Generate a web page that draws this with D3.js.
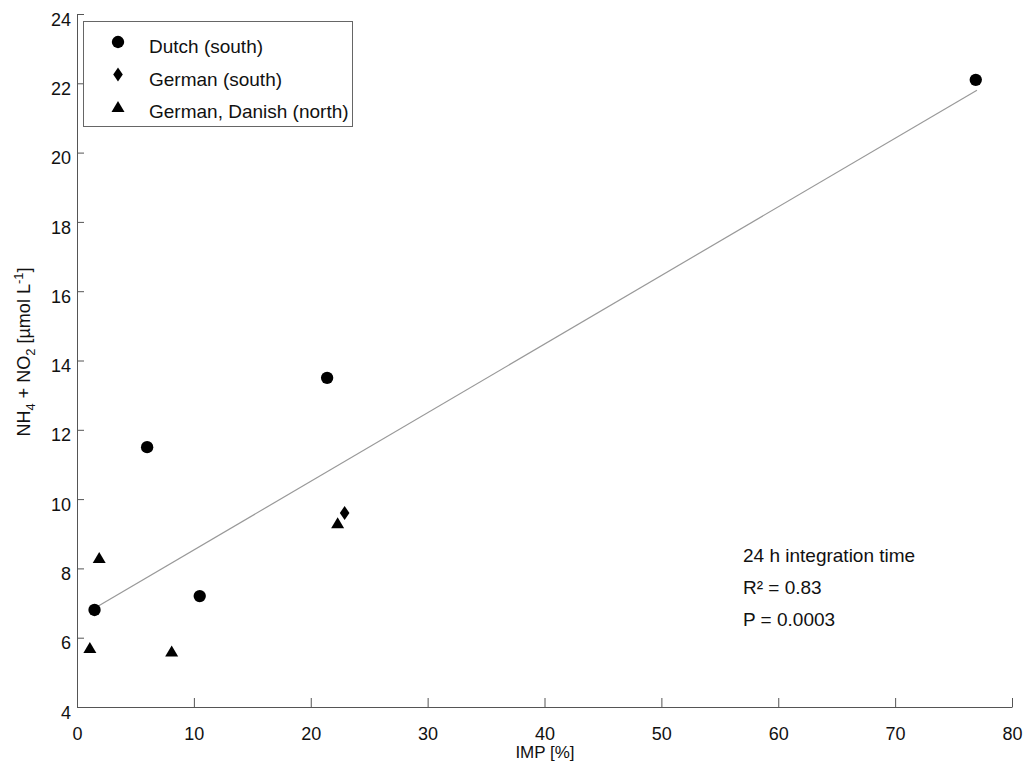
<!DOCTYPE html>
<html>
<head>
<meta charset="utf-8">
<script src="https://cdn.jsdelivr.net/npm/d3@7"></script>
<style>
  body { margin: 0; background: #fff; }
  text { font-family: Arial, "Liberation Sans", sans-serif; fill: #111; }
</style>
</head>
<body>
<div id="chart"></div>
<script>
// values
let dutchX = [1.5, 6.0, 10.5, 21.4, 76.9];
let dutchY = [6.8, 11.5, 7.2, 13.5, 22.1];
let germanSouthX = [22.9];
let germanSouthY = [9.6];
let northX = [1.1, 1.9, 8.1, 22.3];
let northY = [5.7, 8.3, 5.6, 9.3];
let trendX = [1.5, 77];
let trendY = [6.85, 21.8];
let xTicks = [0, 10, 20, 30, 40, 50, 60, 70, 80];
let yTicks = [4, 6, 8, 10, 12, 14, 16, 18, 20, 22, 24];
let legendLabels = ['Dutch (south)', 'German (south)', 'German, Danish (north)'];
let notes = ['24 h integration time', 'R\u00b2 = 0.83', 'P = 0.0003'];

let margin = {top: 14, right: 15, bottom: 69, left: 77};
let width = 1028 - margin.left - margin.right,
    height = 776 - margin.top - margin.bottom;

let svg = d3.select('#chart').append('svg')
    .attr('width', 1028).attr('height', 776);
let g = svg.append('g').attr('transform', `translate(${margin.left}, ${margin.top})`);

let xScale = d3.scaleLinear().domain([0, 80]).range([0, width - 1]);
let yScale = d3.scaleLinear().domain([4, 24]).range([height, 0]);

// axes with inward ticks
let xAxis = d3.axisBottom(xScale).tickValues(xTicks).tickSizeInner(-9).tickSizeOuter(0).tickPadding(20);
let yAxis = d3.axisLeft(yScale).tickValues(yTicks).tickSizeInner(-7).tickSizeOuter(0).tickPadding(6);

let gx = g.append('g').attr('transform', `translate(0, ${height})`).call(xAxis);
let gy = g.append('g').call(yAxis);
[gx, gy].forEach(function(ax) {
    ax.select('.domain').attr('stroke', '#555');
    ax.selectAll('.tick line').attr('stroke', '#555');
    ax.selectAll('.tick text').style('font-size', '18px').attr('fill', '#111')
        .style('font-family', 'Arial, "Liberation Sans", sans-serif');
});
gy.selectAll('.tick text').attr('dy', '0.62em');

// regression line
g.append('line')
    .attr('x1', xScale(trendX[0])).attr('y1', yScale(trendY[0]))
    .attr('x2', xScale(trendX[1])).attr('y2', yScale(trendY[1]))
    .attr('stroke', '#999').attr('stroke-width', 1.2);

let circleSym = d3.symbol().type(d3.symbolCircle).size(120);
let diamondSym = function() { return 'M0,-7L4.8,0L0,7L-4.8,0Z'; };
let triSym = function() { return 'M0,-6L6.5,5L-6.5,5Z'; };

function drawSeries(xs, ys, path) {
    g.selectAll(null)
        .data(xs.map(function(x, i) { return {x: x, y: ys[i]}; }))
        .enter().append('path')
        .attr('d', path)
        .attr('transform', function(d) { return `translate(${xScale(d.x)}, ${yScale(d.y)})`; })
        .attr('fill', '#000');
}
drawSeries(dutchX, dutchY, circleSym);
drawSeries(germanSouthX, germanSouthY, diamondSym);
drawSeries(northX, northY, triSym);

// legend
let legend = svg.append('g');
legend.append('rect')
    .attr('x', 83.5).attr('y', 21.5).attr('width', 269).attr('height', 105)
    .attr('fill', '#fff').attr('stroke', '#666');
let legendSyms = [circleSym, diamondSym, triSym];
legendLabels.forEach(function(label, i) {
    let yy = 42 + i * 32.5;
    legend.append('path').attr('d', legendSyms[i])
        .attr('transform', `translate(118, ${yy})`).attr('fill', '#000');
    legend.append('text').attr('x', 149).attr('y', yy + 11)
        .style('font-size', '19px').text(label);
});

// annotation
notes.forEach(function(n, i) {
    svg.append('text').attr('x', 743).attr('y', 562 + i * 32)
        .style('font-size', '19px').text(n);
});

// axis titles
svg.append('text').attr('x', 545).attr('y', 758)
    .attr('text-anchor', 'middle').style('font-size', '17px').text('IMP [%]');

let yt = svg.append('text')
    .attr('transform', 'translate(30, 352) rotate(-90)')
    .attr('text-anchor', 'middle').style('font-size', '18px');
yt.append('tspan').text('NH');
yt.append('tspan').text('4').style('font-size', '13px').attr('dy', 5);
yt.append('tspan').text(' + NO').attr('dy', -5);
yt.append('tspan').text('2').style('font-size', '13px').attr('dy', 5);
yt.append('tspan').text(' [\u00b5mol L').attr('dy', -5);
yt.append('tspan').text('-1').style('font-size', '13px').attr('dy', -7);
yt.append('tspan').text(']').attr('dy', 7);
</script>
</body>
</html>
